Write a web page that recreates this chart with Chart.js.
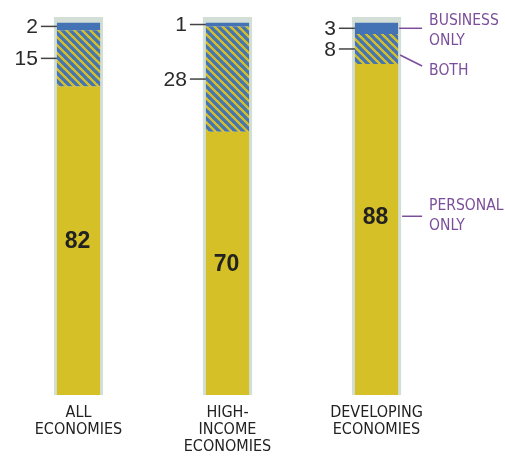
<!DOCTYPE html>
<html>
<head>
<meta charset="utf-8">
<script src="https://cdn.jsdelivr.net/npm/chart.js@4/dist/chart.umd.min.js"></script>
<style>
  body { margin: 0; background: #fff; }
  #wrap { width: 505px; height: 456px; position: relative; }
</style>
</head>
<body>
<div id="wrap"><canvas id="chart"></canvas></div>
<script>
var categories = [['ALL', 'ECONOMIES'], ['HIGH-', 'INCOME', 'ECONOMIES'], ['DEVELOPING', 'ECONOMIES']];
var personalOnly = [82, 70, 88];
var both = [15, 28, 8];
var businessOnly = [2, 1, 3];
var frame = [100.5, 100.5, 100.5];
var seriesNames = [['PERSONAL', 'ONLY'], ['BOTH'], ['BUSINESS', 'ONLY']];

var narrow = "'Liberation Sans Narrow', 'DejaVu Sans Condensed', sans-serif";
var YELLOW = '#d5c027';
var BLUE = '#4473b5';
var FRAME = '#d3ded6';
var PURPLE = '#7b4e9b';

function hatch() {
  var n = 8;
  var c = document.createElement('canvas');
  c.width = n; c.height = n;
  var g = c.getContext('2d');
  g.fillStyle = YELLOW;
  g.fillRect(0, 0, n, n);
  g.strokeStyle = BLUE;
  g.lineWidth = 3.3;
  [-n, 0, n].forEach(function (k) {
    g.beginPath();
    g.moveTo(k - 1, -1);
    g.lineTo(k + n + 1, n + 1);
    g.stroke();
  });
  return g.createPattern(c, 'repeat');
}

var annotate = {
  id: 'annotate',
  afterDatasetsDraw: function (chart) {
    var ctx = chart.ctx;
    var xs = chart.scales.x;
    var pers = chart.getDatasetMeta(0).data;
    var bth = chart.getDatasetMeta(1).data;
    var bus = chart.getDatasetMeta(2).data;
    ctx.save();
    for (var i = 0; i < categories.length; i++) {
      var left = pers[i].x - pers[i].width / 2;
      var right = pers[i].x + pers[i].width / 2;

      // category label under the bar
      ctx.fillStyle = '#222';
      ctx.font = '16px ' + narrow;
      ctx.textAlign = 'center';
      ctx.textBaseline = 'top';
      var cx = xs.getPixelForValue(i);
      categories[i].forEach(function (line, k) {
        ctx.fillText(line, cx, chart.chartArea.bottom + 10 + k * 17);
      });

      // numbers on the left with leader lines
      [[bus[i], businessOnly[i]], [bth[i], both[i]]].forEach(function (p) {
        var el = p[0];
        var my = (el.y + el.base) / 2;
        ctx.strokeStyle = '#444';
        ctx.lineWidth = 1.5;
        ctx.beginPath();
        ctx.moveTo(left - 16, my);
        ctx.lineTo(left, my);
        ctx.stroke();
        ctx.fillStyle = '#2a2a2a';
        ctx.font = "21px 'Liberation Sans', Arial, sans-serif";
        ctx.textAlign = 'right';
        ctx.textBaseline = 'middle';
        ctx.fillText(String(p[1]), left - 19, my + 1);
      });

      // bold value inside yellow part
      var py = (pers[i].y + pers[i].base) / 2;
      if (i === 2) py = pers[i].y + 0.46 * (pers[i].base - pers[i].y);
      ctx.fillStyle = '#222';
      ctx.font = "bold 23px 'Liberation Sans', Arial, sans-serif";
      ctx.textAlign = 'center';
      ctx.textBaseline = 'middle';
      ctx.fillText(String(personalOnly[i]), pers[i].x - 1, py + 1);

      if (i === categories.length - 1) {
        ctx.strokeStyle = PURPLE;
        ctx.fillStyle = PURPLE;
        ctx.lineWidth = 1.5;
        ctx.font = '15.5px ' + narrow;
        ctx.textAlign = 'left';
        ctx.textBaseline = 'middle';
        var tx = right + 31;
        // business only
        var by = (bus[i].y + bus[i].base) / 2;
        ctx.beginPath();
        ctx.moveTo(right + 1, by);
        ctx.lineTo(right + 24, by);
        ctx.stroke();
        ctx.fillText(seriesNames[2][0], tx, by - 7);
        ctx.fillText(seriesNames[2][1], tx, by + 13);
        // both
        var hy = (bth[i].y + bth[i].base) / 2 + 6;
        ctx.beginPath();
        ctx.moveTo(right + 2, hy);
        ctx.lineTo(right + 24, hy + 11);
        ctx.stroke();
        ctx.fillText(seriesNames[1][0], tx, hy + 16);
        // personal only
        ctx.beginPath();
        ctx.moveTo(right + 4, py);
        ctx.lineTo(right + 24, py);
        ctx.stroke();
        ctx.fillText(seriesNames[0][0], tx, py - 10);
        ctx.fillText(seriesNames[0][1], tx, py + 10);
      }
    }
    ctx.restore();
  }
};

var ctx = document.getElementById('chart').getContext('2d');
var chart = new Chart(ctx, {
  type: 'bar',
  data: {
    labels: categories,
    datasets: [
      { label: 'Personal only', data: personalOnly, backgroundColor: YELLOW, stack: 's' },
      { label: 'Both', data: both, backgroundColor: hatch(), stack: 's' },
      { label: 'Business only', data: businessOnly, backgroundColor: BLUE, stack: 's' },
      { label: 'frame', data: frame, backgroundColor: FRAME, stack: 'frame',
        barPercentage: 0.33, order: 5 }
    ]
  },
  options: {
    responsive: true,
    maintainAspectRatio: false,
    animation: false,
    datasets: { bar: { categoryPercentage: 1, barPercentage: 0.29, borderWidth: 0, grouped: false } },
    layout: { padding: { left: 4, right: 54, top: 17, bottom: 61 } },
    plugins: { legend: { display: false }, tooltip: { enabled: false } },
    scales: {
      x: { display: false, stacked: true },
      y: { display: false, stacked: true, min: 0, max: 100.5 }
    }
  },
  plugins: [annotate]
});
</script>
</body>
</html>
